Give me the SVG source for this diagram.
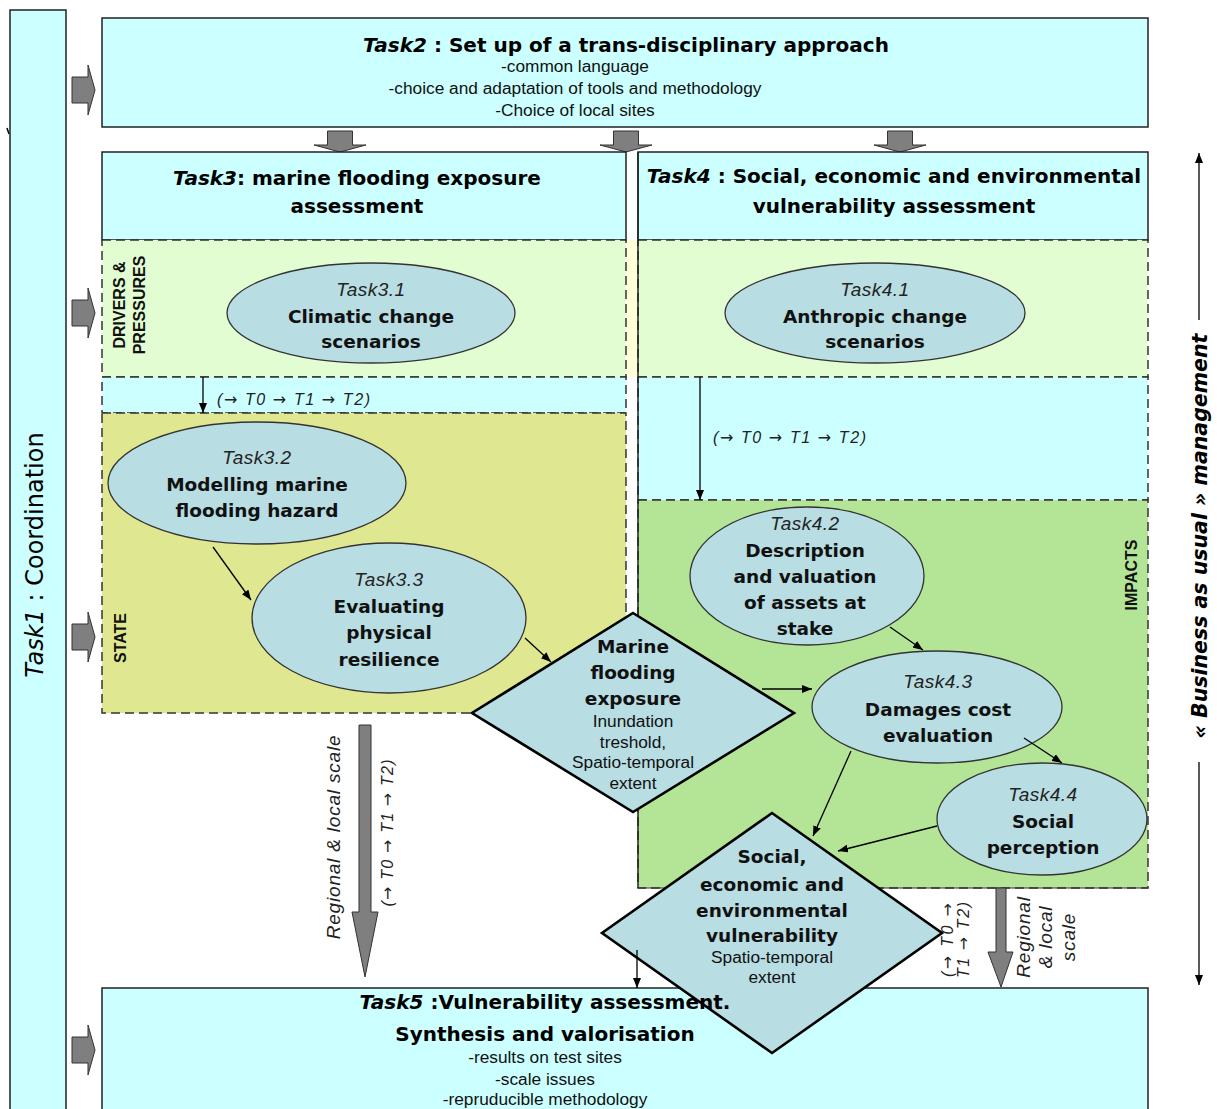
<svg xmlns="http://www.w3.org/2000/svg" width="1217" height="1109" viewBox="0 0 1217 1109">
<style>
.box{fill:#ccffff;stroke:#222;stroke-width:1.5}
.dash{stroke:#333;stroke-width:1.5;stroke-dasharray:9 5}
.ell{fill:#b8dde3;stroke:#333;stroke-width:1.3}
.dia{fill:#b8dde3;stroke:#000;stroke-width:2.6;stroke-linejoin:miter}
.blk{fill:#7f7f7f;stroke:#333;stroke-width:1}
.con{stroke:#000;stroke-width:1.3;fill:none;marker-end:url(#ah)}
.title{font-family:'DejaVu Sans',sans-serif;font-weight:bold;font-size:20px;text-anchor:middle;fill:#000}
.nb{font-family:'DejaVu Sans',sans-serif;font-weight:bold;font-size:18.5px;text-anchor:middle;fill:#111}
.ni{font-family:'Liberation Sans',sans-serif;font-style:italic;font-size:19px;text-anchor:middle;fill:#222;letter-spacing:0.5px}
.sm{font-family:'Liberation Sans',sans-serif;font-size:17.3px;text-anchor:middle;fill:#111}
.lab{font-family:'Liberation Sans',sans-serif;font-weight:bold;font-size:16px;text-anchor:middle;fill:#111}
.tt{font-family:'Liberation Sans',sans-serif;font-style:italic;font-size:16px;fill:#222}
.ar{font-family:'DejaVu Sans',sans-serif;font-style:normal}
.rs{font-family:'Liberation Sans',sans-serif;font-style:italic;font-size:19px;text-anchor:middle;fill:#222;letter-spacing:0.8px}
</style>
<defs>
<marker id="ah" markerWidth="10" markerHeight="8" refX="10" refY="4" orient="auto" markerUnits="userSpaceOnUse">
<path d="M0,0 L10,4 L0,8 Z" fill="#000"/>
</marker>
<path id="barR" class="blk" d="M0,-13 H16 V-25 L23,0 L16,25 V13 H0 Z"/>
<path id="barD" class="blk" d="M-12.5,0 H12.5 V14 H26 L0,21 L-26,14 H-12.5 Z"/>
</defs>
<rect width="1217" height="1109" fill="#fff"/>

<g id="task1">
<rect class="box" x="10" y="10" width="56" height="1110"/>
<text transform="translate(43,555) rotate(-90)" font-family="'DejaVu Sans',sans-serif" font-size="24" text-anchor="middle" fill="#000"><tspan font-style="italic">Task1</tspan> : Coordination</text>
<path d="M7,128 L9,134" stroke="#000" stroke-width="1.5"/>
</g>

<g id="task1-arrows">
<use href="#barR" x="72" y="90"/>
<use href="#barR" x="72" y="313"/>
<use href="#barR" x="72" y="637"/>
<use href="#barR" x="72" y="1050"/>
</g>

<g id="task2">
<rect class="box" x="102" y="18" width="1046" height="109"/>
<text class="title" x="626" y="52"><tspan font-style="italic">Task2</tspan> : Set up of a trans-disciplinary approach</text>
<text class="sm" x="575" y="72">-common language</text>
<text class="sm" x="575" y="94">-choice and adaptation of tools and methodology</text>
<text class="sm" x="575" y="116">-Choice of local sites</text>
</g>

<g id="task2-arrows">
<use href="#barD" x="340" y="131"/>
<use href="#barD" x="626" y="131"/>
<use href="#barD" x="900" y="131"/>
</g>

<g id="task3">
<rect class="box" x="102" y="152" width="524" height="88"/>
<rect x="102" y="240" width="524" height="137" fill="#e2fdd2" class="dash"/>
<rect x="102" y="377" width="524" height="36" fill="#ccffff" class="dash"/>
<rect x="102" y="413" width="524" height="300" fill="#dfe891" class="dash"/>
<text class="title" x="357" y="185"><tspan font-style="italic">Task3</tspan>: marine flooding exposure</text>
<text class="title" x="357" y="213">assessment</text>
<text class="lab" transform="translate(125,305) rotate(-90)">DRIVERS &amp;</text>
<text class="lab" transform="translate(145,305) rotate(-90)">PRESSURES</text>
<text class="lab" transform="translate(126,638) rotate(-90)">STATE</text>
</g>

<g id="gap">
<rect x="627" y="240" width="10" height="137" fill="#ffffd8"/>
</g>

<g id="task4">
<rect class="box" x="638" y="152" width="510" height="88"/>
<rect x="638" y="240" width="510" height="137" fill="#e2fdd2" class="dash"/>
<rect x="638" y="377" width="510" height="123" fill="#ccffff" class="dash"/>
<rect x="638" y="500" width="510" height="388" fill="#b4e596" class="dash"/>
<line x1="638" y1="152" x2="638" y2="888" stroke="#222" stroke-width="1.5"/>
<line x1="638" y1="888" x2="1148" y2="888" stroke="#333" stroke-width="1.2"/>
<text class="title" x="894" y="183"><tspan font-style="italic">Task4</tspan> : Social, economic and environmental</text>
<text class="title" x="894" y="213">vulnerability assessment</text>
<text class="lab" transform="translate(1137,575) rotate(-90)">IMPACTS</text>
</g>

<g id="task3-1">
<ellipse class="ell" cx="371" cy="313" rx="144" ry="50"/>
<text class="ni" x="371" y="296">Task3.1</text>
<text class="nb" x="371" y="323">Climatic change</text>
<text class="nb" x="371" y="348">scenarios</text>
</g>

<g id="task4-1">
<ellipse class="ell" cx="875" cy="313" rx="150" ry="50"/>
<text class="ni" x="875" y="296">Task4.1</text>
<text class="nb" x="875" y="323">Anthropic change</text>
<text class="nb" x="875" y="348">scenarios</text>
</g>

<g id="task3-2">
<ellipse class="ell" cx="257" cy="483" rx="149" ry="61"/>
<text class="ni" x="257" y="464">Task3.2</text>
<text class="nb" x="257" y="491">Modelling marine</text>
<text class="nb" x="257" y="517">flooding hazard</text>
</g>

<g id="task3-3">
<ellipse class="ell" cx="389" cy="618" rx="137" ry="75"/>
<text class="ni" x="389" y="586">Task3.3</text>
<text class="nb" x="389" y="613">Evaluating</text>
<text class="nb" x="389" y="639">physical</text>
<text class="nb" x="389" y="666">resilience</text>
</g>

<g id="task4-2">
<ellipse class="ell" cx="807" cy="576" rx="117" ry="69"/>
<text class="ni" x="805" y="530">Task4.2</text>
<text class="nb" x="805" y="557">Description</text>
<text class="nb" x="805" y="583">and valuation</text>
<text class="nb" x="805" y="609">of assets at</text>
<text class="nb" x="805" y="635">stake</text>
</g>

<g id="task4-3">
<ellipse class="ell" cx="937" cy="707" rx="125" ry="56"/>
<text class="ni" x="938" y="688">Task4.3</text>
<text class="nb" x="938" y="716">Damages cost</text>
<text class="nb" x="938" y="742">evaluation</text>
</g>

<g id="task4-4">
<ellipse class="ell" cx="1042" cy="819" rx="105" ry="56"/>
<text class="ni" x="1043" y="801">Task4.4</text>
<text class="nb" x="1043" y="828">Social</text>
<text class="nb" x="1043" y="854">perception</text>
</g>

<g id="exposure">
<path class="dia" d="M633,613 L794,713 L633,812 L472,713 Z"/>
<text class="nb" x="633" y="653">Marine</text>
<text class="nb" x="633" y="679">flooding</text>
<text class="nb" x="633" y="705">exposure</text>
<text class="sm" x="633" y="727">Inundation</text>
<text class="sm" x="633" y="748">treshold,</text>
<text class="sm" x="633" y="768">Spatio-temporal</text>
<text class="sm" x="633" y="789">extent</text>
</g>

<g id="task5">
<rect class="box" x="102" y="988" width="1046" height="140"/>
</g>

<g id="vulnerability">
<path class="dia" d="M772,813 L942,933 L772,1053 L602,933 Z"/>
<text class="nb" x="772" y="863">Social,</text>
<text class="nb" x="772" y="891">economic and</text>
<text class="nb" x="772" y="917">environmental</text>
<text class="nb" x="772" y="942">vulnerability</text>
<text class="sm" x="772" y="963">Spatio-temporal</text>
<text class="sm" x="772" y="983">extent</text>
</g>

<g id="task5-text">
<text class="title" x="545" y="1009"><tspan font-style="italic">Task5</tspan> :Vulnerability assessment.</text>
<text class="title" x="545" y="1041">Synthesis and valorisation</text>
<text class="sm" x="545" y="1063">-results on test sites</text>
<text class="sm" x="545" y="1085">-scale issues</text>
<text class="sm" x="545" y="1105">-repruducible methodology</text>
</g>

<g id="scale-arrows">
<path class="blk" d="M359,725 H371 V912 H378 L365,977 L352,912 H359 Z"/>
<path class="blk" d="M996,888 H1006 V952 H1013 L1001,987 L988,952 H996 Z"/>
<text class="rs" transform="translate(340,837) rotate(-90)">Regional &amp; local scale</text>
<text class="tt" text-anchor="middle" textLength="147" lengthAdjust="spacing" transform="translate(393,833) rotate(-90)">(<tspan class="ar">→</tspan> T0 <tspan class="ar">→</tspan> T1 <tspan class="ar">→</tspan> T2)</text>
<text class="tt" font-size="14" text-anchor="middle" textLength="74" lengthAdjust="spacing" transform="translate(953,940) rotate(-90)">(<tspan class="ar">→</tspan> T0 <tspan class="ar">→</tspan></text>
<text class="tt" font-size="14" text-anchor="middle" textLength="76" lengthAdjust="spacing" transform="translate(969,940) rotate(-90)">T1 <tspan class="ar">→</tspan> T2)</text>
<text class="rs" transform="translate(1030,937) rotate(-90)">Regional</text>
<text class="rs" transform="translate(1052,937) rotate(-90)">&amp; local</text>
<text class="rs" transform="translate(1075,937) rotate(-90)">scale</text>
</g>

<g id="bau">
<line x1="1199" y1="153" x2="1199" y2="320" stroke="#000" stroke-width="1.3" marker-end="url(#ah)" transform="rotate(180 1199 236.5)"/>
<line x1="1199" y1="762" x2="1199" y2="985" stroke="#000" stroke-width="1.3" marker-end="url(#ah)"/>
<text transform="translate(1207,536) rotate(-90)" font-family="'DejaVu Sans',sans-serif" font-weight="bold" font-style="italic" font-size="20.5" text-anchor="middle" fill="#000">« Business as usual » management</text>
</g>

<g id="connectors">
<line class="con" x1="203" y1="377" x2="203" y2="413"/>
<line class="con" x1="700" y1="377" x2="700" y2="500"/>
<line class="con" x1="213" y1="547" x2="251" y2="600"/>
<line class="con" x1="525" y1="638" x2="551" y2="662"/>
<line class="con" x1="762" y1="689" x2="812" y2="689"/>
<line class="con" x1="890" y1="627" x2="923" y2="650"/>
<line class="con" x1="1024" y1="738" x2="1062" y2="763"/>
<line class="con" x1="851" y1="751" x2="813" y2="836"/>
<line class="con" x1="937" y1="826" x2="838" y2="851"/>
<line class="con" x1="637" y1="950" x2="637" y2="988"/>
<text class="tt" x="217" y="405" textLength="153" lengthAdjust="spacing">(<tspan class="ar">→</tspan> T0 <tspan class="ar">→</tspan> T1 <tspan class="ar">→</tspan> T2)</text>
<text class="tt" x="713" y="443" textLength="153" lengthAdjust="spacing">(<tspan class="ar">→</tspan> T0 <tspan class="ar">→</tspan> T1 <tspan class="ar">→</tspan> T2)</text>
</g>
</svg>
